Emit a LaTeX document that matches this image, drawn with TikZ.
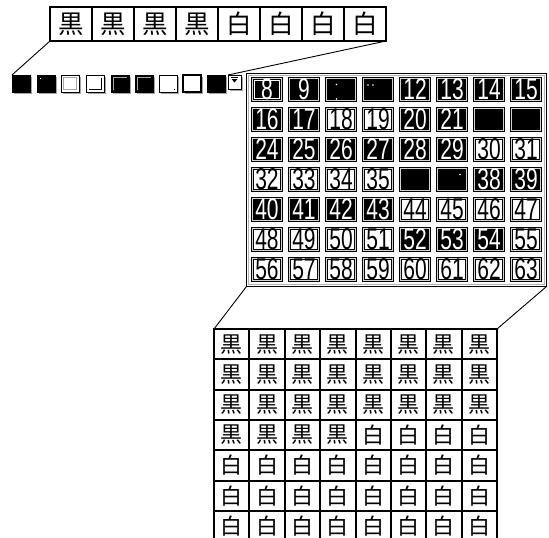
\documentclass[tikz,border=0pt]{standalone}
\usepackage{fontspec}
\usepackage{pdfrender}
\setmainfont{Liberation Sans}
\newfontfamily\cjk{Noto Sans CJK JP}
\newfontfamily\numf[FakeStretch=0.7]{Liberation Sans}
\usetikzlibrary{shadows}
\newcommand\outl[1]{\textpdfrender{TextRenderingMode=Stroke,LineWidth=0.7pt}{#1}}
\tikzset{
 stripcell/.style={draw=black, line width=2.4pt, minimum width=42pt, minimum height=34pt, inner sep=0pt, outer sep=0pt, font=\cjk\fontsize{25.5}{25.5}\selectfont},
 tabcell/.style={draw=black, line width=2pt, minimum width=35.375pt, minimum height=30.3pt, inner sep=0pt, outer sep=0pt, font=\cjk\fontsize{22}{22}\selectfont},
 gcell/.style={draw=black, line width=0.8pt, double=gray!35, double distance=1.3pt, minimum width=29.1pt, minimum height=22.1pt, inner sep=0pt, outer sep=0pt, font=\numf\fontsize{30}{30}\selectfont},
 gblack/.style={gcell, fill=black, text=white},
 gwhite/.style={gcell, fill=white, text=black},
 btn/.style={draw=black, line width=0.8pt, minimum width=18pt, minimum height=17pt, inner sep=0pt, outer sep=0pt, anchor=north west, drop shadow={shadow xshift=1.8pt, shadow yshift=-1.8pt, fill=gray!70, opacity=1}},
 link/.style={draw=black, line width=0.9pt},
}
\begin{document}
\begin{tikzpicture}[x=1pt,y=-1pt]
\useasboundingbox (0,0) rectangle (549,538);
\clip (0,0) rectangle (549,538);
\fill[white] (0,0) rectangle (549,538);

% top strip
\foreach \ch [count=\i from 0] in {黒,黒,黒,黒,白,白,白,白}
  \node[stripcell] (s\i) at (71+42*\i, 24) {\ch};

% small squares
\node[btn, fill=black] (sq1) at (12,75) {};
\node[btn, fill=black] (sq2) at (37,75) {};
\fill[white] ([shift={(2.5,2.5)}]sq2.north west) rectangle ++(1.5,1.5);
\node[btn, fill=white] (sq3) at (61,75) {};
\draw[gray!70, line width=0.8pt] ([shift={(2.5,2.5)}]sq3.north west) rectangle ([shift={(-2.5,-2.5)}]sq3.south east);
\node[btn, fill=white] (sq4) at (86,75) {};
\draw[black, line width=0.8pt] ([shift={(-2.5,2.5)}]sq4.north east) |- ([shift={(2.5,-2.5)}]sq4.south west);
\node[btn, fill=black] (sq5) at (111,75) {};
\draw[gray!70, line width=1pt] ([shift={(2.5,-2.5)}]sq5.south west) |- ([shift={(-2.5,2.5)}]sq5.north east);
\node[btn, fill=black] (sq6) at (135,75) {};
\draw[gray!70, line width=1pt] ([shift={(2.5,-2.5)}]sq6.south west) |- ([shift={(-2.5,2.5)}]sq6.north east);
\node[btn, fill=white] (sq7) at (159,75) {};
\fill[black] ([shift={(-3.5,-3.5)}]sq7.south east) rectangle ++(1.3,1.3);
\node[btn, fill=white, line width=2.6pt] (sq8) at (183,75) {};
\node[btn, fill=black] (sq9) at (207,75) {};
\node[btn, fill=white, minimum width=13pt, minimum height=14pt] (sq10) at (228,75) {};
\draw[black, line width=0.7pt] ([shift={(3,2.5)}]sq10.north west) -- ++(7,0);
\fill[black] ([shift={(3.5,4)}]sq10.north west) -- ++(6,0) -- ++(-3,3.5) -- cycle;

% connectors strip -> squares
\draw[link] (s0.south west) -- (sq1.north west);
\draw[link] (s7.south east) -- (sq10.north west);

% window
\node[draw=black, fill=white, line width=1pt, minimum width=300pt, minimum height=213pt, anchor=north west, inner sep=0pt, outer sep=0pt] (win) at (246.5,73.5) {};
\draw[gray!60, line width=0.8pt] ([shift={(2,2)}]win.north west) rectangle ([shift={(-2,-2)}]win.south east);

\foreach \r/\pat in {0/{1,1,2,2,3,3,3,3},1/{3,3,0,0,1,1,2,2},2/{3,3,3,3,3,3,0,0},3/{0,0,0,0,2,2,3,3},4/{3,3,3,3,0,0,0,0},5/{0,0,0,0,3,3,3,0},6/{0,0,0,0,0,0,0,0}}{
  \foreach \b [count=\c from 0] in \pat {
    \pgfmathtruncatemacro\n{8+8*\r+\c}
    \ifcase\b
      \node[gwhite] (g\n) at (267+37*\c, 89.5+30*\r) {\n};
    \or
      \node[gblack] (g\n) at (267+37*\c, 89.5+30*\r) {\n};
    \or
      \node[gblack] (g\n) at (267+37*\c, 89.5+30*\r) {};
    \or
      \node[gblack] (g\n) at (267+37*\c, 89.5+30*\r) {\outl{\n}};
    \fi
  }
}
\draw[white, line width=0.6pt] ([shift={(2,2)}]g8.north west) rectangle ([shift={(-2,-2)}]g8.south east);
\fill[white] ([shift={(-4.5,-5)}]g10.center) circle (0.8);
\fill[white] ([shift={(-4.5,9.5)}]g10.center) circle (0.8);
\fill[white] ([shift={(-10,-4.5)}]g11.center) circle (0.8);
\fill[white] ([shift={(-5,-4.5)}]g11.center) circle (0.8);
\fill[white] ([shift={(8,-5)}]g37.center) circle (0.8);

% bottom table
\foreach \r in {0,...,6}{
  \foreach \c in {0,...,7}{
    \pgfmathtruncatemacro\n{8*\r+\c}
    \node[tabcell] (t\r\c) at (231.69+35.375*\c, 344.15+30.3*\r) {\ifnum\n<28 黒\else 白\fi};
  }
}

% connectors window -> table
\draw[link] (win.south west) -- (t00.north west);
\draw[link] (win.south east) -- (t07.north east);
\end{tikzpicture}
\end{document}
